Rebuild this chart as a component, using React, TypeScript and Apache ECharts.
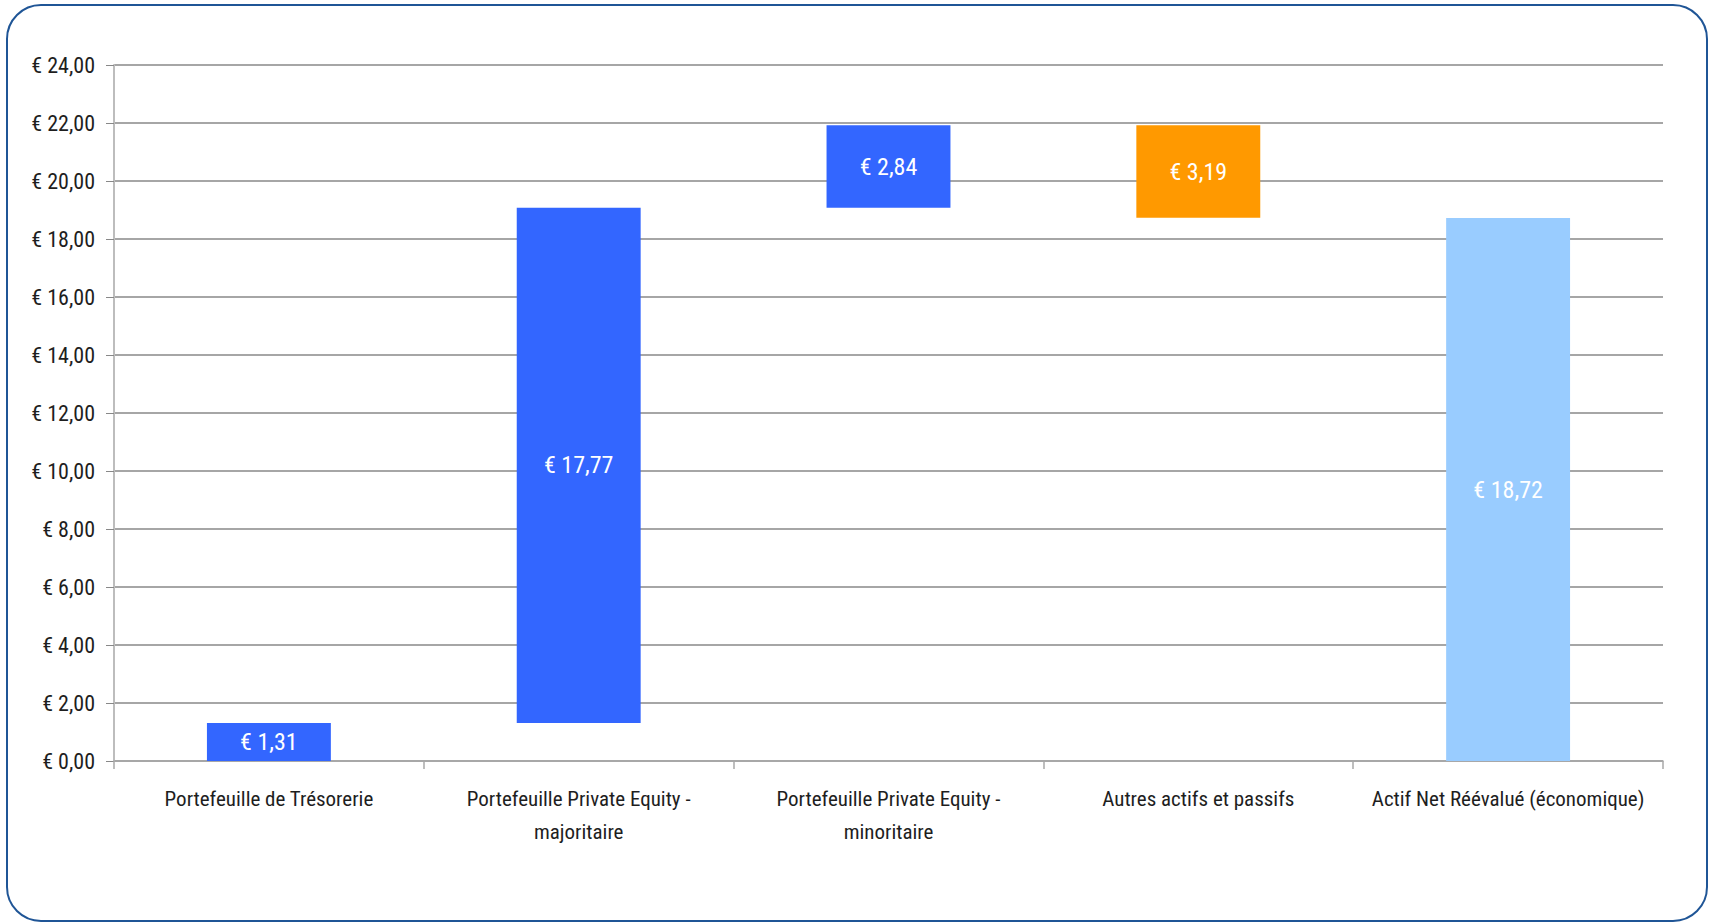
import React, { useEffect, useRef } from "react";
import * as echarts from "echarts";

const categories = [
  "Portefeuille de Trésorerie",
  "Portefeuille Private Equity -\nmajoritaire",
  "Portefeuille Private Equity -\nminoritaire",
  "Autres actifs et passifs",
  "Actif Net Réévalué (économique)",
];
// signed contributions; last one is the total
const deltas = [1.31, 17.77, 2.84, -3.19, 18.72];
const isTotal = [false, false, false, false, true];
const barColors = ["#3366FF", "#3366FF", "#3366FF", "#FF9900", "#99CCFF"];
const yMin = 0;
const yMax = 24;
const yStep = 2;

const FONT = "'Liberation Sans Narrow', 'Arial Narrow', 'Roboto Condensed', 'Liberation Sans', sans-serif";

const fmt = (v: number) => "€ " + v.toFixed(2).replace(".", ",");

export default function App() {
  const ref = useRef<HTMLDivElement>(null);

  useEffect(() => {
    if (!ref.current) return;
    const chart = echarts.init(ref.current, undefined, { renderer: "svg" });

    const bases: number[] = [];
    const heights: number[] = [];
    let running = 0;
    deltas.forEach((d, i) => {
      if (isTotal[i]) {
        bases.push(0);
        heights.push(d);
        running = d;
      } else if (d >= 0) {
        bases.push(running);
        heights.push(d);
        running += d;
      } else {
        running += d;
        bases.push(running);
        heights.push(-d);
      }
    });

    chart.setOption({
      animation: false,
      backgroundColor: "#ffffff",
      graphic: [
        {
          type: "rect",
          shape: { x: 7, y: 5, width: 1700, height: 916, r: 34 },
          style: { fill: "none", stroke: "#1f5596", lineWidth: 2 },
          silent: true,
        },
      ],
      grid: { left: 114, top: 65, right: 46, bottom: 162, containLabel: false },
      xAxis: {
        type: "category",
        data: categories,
        axisLine: { show: true, lineStyle: { color: "#a8a8a8", width: 1.5 } },
        axisTick: { show: true, length: 8, lineStyle: { color: "#a8a8a8", width: 1.5 } },
        axisLabel: {
          interval: 0,
          margin: 21,
          fontFamily: FONT,
          fontSize: 21,
          lineHeight: 33,
          color: "#1e1e1e",
        },
        splitLine: { show: false },
      },
      yAxis: {
        type: "value",
        min: yMin,
        max: yMax,
        interval: yStep,
        axisLine: { show: true, lineStyle: { color: "#bdbdbd", width: 2 } },
        axisTick: { show: true, length: 8, inside: false, lineStyle: { color: "#888888" } },
        axisLabel: {
          formatter: (v: number) => fmt(v),
          fontFamily: FONT,
          fontSize: 22,
          color: "#1e1e1e",
          margin: 19,
        },
        splitLine: { show: true, lineStyle: { color: "#888888", width: 1.5 } },
      },
      series: [
        {
          type: "bar",
          stack: "wf",
          data: bases,
          itemStyle: { color: "transparent" },
          emphasis: { disabled: true },
          barWidth: "40%",
          silent: true,
        },
        {
          type: "bar",
          stack: "wf",
          barWidth: "40%",
          data: heights.map((h, i) => ({
            value: h,
            itemStyle: { color: barColors[i] },
          })),
          label: {
            show: true,
            position: "inside",
            formatter: (p: any) => fmt(Math.abs(deltas[p.dataIndex])),
            color: "#ffffff",
            fontFamily: FONT,
            fontSize: 24,
          },
        },
      ],
    });

    return () => chart.dispose();
  }, []);

  return (
    <div
      ref={ref}
      style={{ position: "fixed", left: 0, top: 0, width: 1709, height: 923 }}
    />
  );
}
